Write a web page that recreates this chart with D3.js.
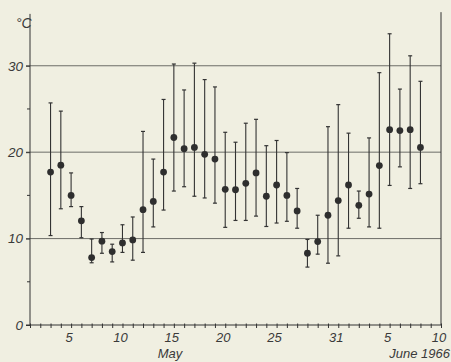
<!DOCTYPE html>
<html>
<head>
<meta charset="utf-8">
<script src="https://cdn.jsdelivr.net/npm/d3@7"></script>
<style>
  html, body { margin: 0; padding: 0; background: #f0efe1; }
  svg { display: block; }
</style>
</head>
<body>
<div id="chart"></div>
<script>
// Days counted from 1 May 1966 (32 = 1 June)
const days = [3, 4, 5, 6, 7, 8, 9, 10, 11, 12, 13, 14, 15, 16, 17, 18, 19, 20, 21, 22, 23, 24, 25, 26, 27, 28, 29, 30, 31, 32, 33, 34, 35, 36, 37, 38, 39]
const meanTemp = [17.7, 18.5, 15.0, 12.05, 7.8, 9.7, 8.5, 9.5, 9.85, 13.35, 14.3, 17.7, 21.7, 20.4, 20.55, 19.75, 19.2, 15.7, 15.65, 16.4, 17.6, 14.9, 16.2, 15.0, 13.2, 8.3, 9.65, 12.7, 14.4, 16.2, 13.85, 15.15, 18.45, 22.6, 22.5, 22.6, 20.55]
const minTemp = [10.35, 13.45, 13.7, 10.1, 7.2, 8.3, 7.3, 8.4, 7.5, 8.4, 11.35, 13.3, 15.5, 16.0, 14.9, 14.7, 14.1, 11.3, 12.1, 12.1, 12.6, 11.4, 11.8, 12.0, 11.2, 6.7, 8.2, 7.15, 8.0, 11.2, 12.35, 11.35, 11.2, 16.15, 18.3, 15.8, 16.35]
const maxTemp = [25.7, 24.75, 17.6, 13.7, 9.95, 10.7, 9.35, 11.6, 12.5, 22.4, 19.2, 26.1, 30.2, 27.2, 30.3, 28.4, 27.55, 22.3, 21.15, 23.35, 23.8, 20.75, 21.35, 19.95, 15.8, 9.9, 12.7, 22.95, 25.5, 22.2, 15.5, 21.65, 29.2, 33.7, 27.3, 31.15, 28.2]

const yTicks = [0, 10, 20, 30]
const yMinorTicks = [5, 15, 25]
const xLabelDays = [5, 10, 15, 20, 25, 31, 36, 41]

const width = 451
const height = 362
const ink = "#333"
const textInk = "#3a3a3a"
const font = "'Liberation Sans', Arial, sans-serif"

const x = d3.scaleLinear().domain([1, 41]).range([30, 441])
const y = d3.scaleLinear().domain([0, 36]).range([325, 13.9])

const svg = d3.select("#chart")
  .append("svg")
  .attr("width", width)
  .attr("height", height)
  .style("font-family", font)

// Horizontal grid lines at 10, 20, 30
svg.selectAll(".grid")
  .data(yTicks.filter(t => t > 0))
  .enter()
  .append("line")
  .attr("x1", x(1) - 4)
  .attr("x2", x(41))
  .attr("y1", d => y(d))
  .attr("y2", d => y(d))
  .attr("stroke", "#5e5e5a")
  .attr("stroke-width", 0.9)

// Right-hand frame line
svg.append("line")
  .attr("x1", x(41)).attr("x2", x(41))
  .attr("y1", y(36.2)).attr("y2", y(0))
  .attr("stroke", ink)
  .attr("stroke-width", 1)

// Y axis
const yAxis = d3.axisLeft(y)
  .tickValues(yTicks)
  .tickSize(4)
  .tickFormat(d3.format("d"))

const gy = svg.append("g")
  .attr("transform", `translate(${x(1)},0)`)
  .call(yAxis)
gy.select(".domain").attr("d", `M0,${y(36)}V${y(0)}`).attr("stroke", ink)
gy.selectAll(".tick line").attr("stroke", ink)
gy.selectAll(".tick text")
  .attr("x", -7)
  .attr("fill", textInk)
  .style("font-size", "13.5px")
  .style("font-style", "italic")
  .style("font-family", font)

// Minor y ticks
svg.selectAll(".ytick-minor")
  .data(yMinorTicks)
  .enter()
  .append("line")
  .attr("x1", x(1) - 3)
  .attr("x2", x(1))
  .attr("y1", d => y(d))
  .attr("y2", d => y(d))
  .attr("stroke", ink)

// X axis: one tick per day
const xAxis = d3.axisBottom(x)
  .tickValues(d3.range(1, 42))
  .tickSize(3)
  .tickFormat("")

const gx = svg.append("g")
  .attr("transform", `translate(0,${y(0)})`)
  .call(xAxis)
gx.select(".domain").attr("d", `M${x(1) - 4},0H${x(41)}`).attr("stroke", ink)
gx.selectAll(".tick line").attr("stroke", ink).attr("y1", -1.5)

svg.selectAll(".xlabel")
  .data(xLabelDays)
  .enter()
  .append("text")
  .attr("x", d => x(d) - 2)
  .attr("y", 342)
  .attr("text-anchor", "middle")
  .attr("fill", textInk)
  .style("font-size", "13px")
  .style("font-style", "italic")
  .text(d => d > 31 ? d - 31 : d)

svg.append("text")
  .attr("x", 170)
  .attr("y", 358)
  .attr("text-anchor", "middle")
  .attr("fill", textInk)
  .style("font-size", "13px")
  .style("font-style", "italic")
  .text("May")

svg.append("text")
  .attr("x", 450)
  .attr("y", 358)
  .attr("text-anchor", "end")
  .attr("fill", textInk)
  .style("font-size", "13px")
  .style("font-style", "italic")
  .text("June 1966")

svg.append("text")
  .attr("x", 16)
  .attr("y", 28)
  .attr("fill", textInk)
  .style("font-size", "14px")
  .style("font-style", "italic")
  .text("°C")

// Error bars with caps
const bars = svg.append("g")
days.forEach((d, i) => {
  const cx = x(d)
  bars.append("line")
    .attr("x1", cx).attr("x2", cx)
    .attr("y1", y(maxTemp[i])).attr("y2", y(minTemp[i]))
    .attr("stroke", ink)
    .attr("stroke-width", 1.1)
  ;[maxTemp[i], minTemp[i]].forEach(v => {
    bars.append("line")
      .attr("x1", cx - 2).attr("x2", cx + 2)
      .attr("y1", y(v)).attr("y2", y(v))
      .attr("stroke", ink)
      .attr("stroke-width", 1.2)
  })
})

// Mean points
svg.selectAll(".mean")
  .data(days)
  .enter()
  .append("circle")
  .attr("cx", d => x(d))
  .attr("cy", (d, i) => y(meanTemp[i]))
  .attr("r", 3.4)
  .attr("fill", "#2e2e2e")
</script>
</body>
</html>
